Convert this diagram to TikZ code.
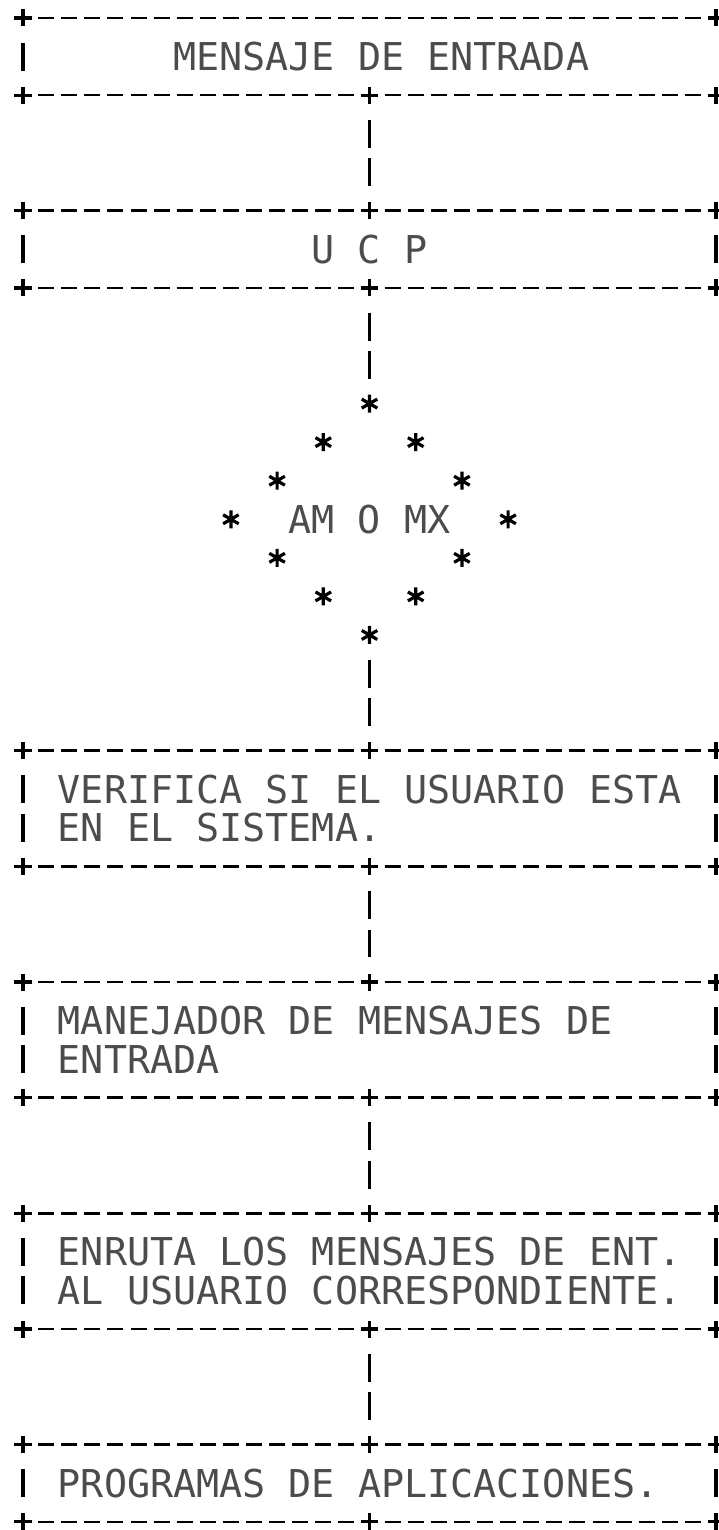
\documentclass[tikz,border=0pt]{standalone}
\usepackage{fontspec}
\newfontfamily\maquina{DejaVu Sans Mono}

% typed "+" and "*" marks
\newcommand{\cruz}[2]{\draw[mas] (#1,#2) ++(-8.5pt,0) -- ++(17pt,0) (#1,#2) ++(0,-8.5pt) -- ++(0,17pt);}
\newcommand{\estrella}[2]{\draw[mas] (#1,#2) ++(0,-9pt) -- ++(0,18pt) (#1,#2) ++(-30:9pt) -- ++(150:18pt) (#1,#2) ++(30:9pt) -- ++(210:18pt);}

\begin{document}
\begin{tikzpicture}[x=23.1pt, y=-38.56pt,
    texto/.style={font=\maquina\fontsize{38.37pt}{38.56pt}\selectfont, text=black!70, inner sep=0pt, text height=27.97pt, text depth=0pt},
    marco/.style={inner sep=0pt, minimum width=693pt},
    raya/.style={line width=2.6pt, dash pattern=on 16pt off 7.1pt, dash phase=19.55pt},
    mas/.style={line width=3.2pt},
    palo/.style={line width=3.4pt},
    enlace/.style={palo, dash pattern=on 28pt off 10.56pt, shorten <=24.56pt, shorten >=24.56pt}]

    \useasboundingbox (-23pt,18pt) rectangle (695pt,-1512pt);

    % one column = 23.1pt, one typed line = 38.56pt
    \node (entrada)   [marco, minimum height=77.12pt]  at (15,1) {};
    \node (ucp)       [marco, minimum height=77.12pt]  at (15,6) {};
    \node (amomx)     [texto, minimum height=231.36pt] at (15,13) {AM O MX};
    \node (verifica)  [marco, minimum height=115.68pt] at (15,20.5) {};
    \node (manejador) [marco, minimum height=115.68pt] at (15,26.5) {};
    \node (enruta)    [marco, minimum height=115.68pt] at (15,32.5) {};
    \node (programas) [marco, minimum height=77.12pt]  at (15,38) {};

    \node (entradaA)   [texto, anchor=west] at (6.5,1)  {MENSAJE DE ENTRADA};
    \node (ucpA)       [texto]              at (15,6)   {U C P};
    \node (verificaA)  [texto, anchor=west] at (1.5,20) {VERIFICA SI EL USUARIO ESTA};
    \node (verificaB)  [texto, anchor=west] at (1.5,21) {EN EL SISTEMA.};
    \node (manejadorA) [texto, anchor=west] at (1.5,26) {MANEJADOR DE MENSAJES DE};
    \node (manejadorB) [texto, anchor=west] at (1.5,27) {ENTRADA};
    \node (enrutaA)    [texto, anchor=west] at (1.5,32) {ENRUTA LOS MENSAJES DE ENT.};
    \node (enrutaB)    [texto, anchor=west] at (1.5,33) {AL USUARIO CORRESPONDIENTE.};
    \node (programasA) [texto, anchor=west] at (1.5,38) {PROGRAMAS DE APLICACIONES.};

    % first frame has no middle mark on top and no right side
    \draw[raya] (0.5,0) -- (29.5,0) (0.5,2) -- (14.5,2) (15.5,2) -- (29.5,2);
    \foreach \x/\y in {0/0, 30/0, 0/2, 15/2, 30/2} {
        \cruz{\x}{\y}
    }

    \foreach \arriba/\abajo in {5/7, 19/22, 25/28, 31/34, 37/39} {
        \draw[raya] (0.5,\arriba) -- (14.5,\arriba) (15.5,\arriba) -- (29.5,\arriba)
                    (0.5,\abajo) -- (14.5,\abajo) (15.5,\abajo) -- (29.5,\abajo);
        \foreach \x in {0,15,30} {
            \cruz{\x}{\arriba}
            \cruz{\x}{\abajo}
        }
    }

    % side bars
    \foreach \r in {1,6,20,21,26,27,32,33,38}
        \draw[palo] (0,\r) ++(0,-14pt) -- ++(0,28pt);
    \foreach \r in {6,20,21,26,27,32,33,38}
        \draw[palo] (30,\r) ++(0,-14pt) -- ++(0,28pt);

    % the diamond of asterisks
    \foreach \x/\y in {15/10, 13/11, 17/11, 11/12, 19/12, 9/13, 21/13,
                       11/14, 19/14, 13/15, 17/15, 15/16} {
        \estrella{\x}{\y}
    }

    \draw[enlace] (entrada.south) -- (ucp.north);
    \draw[enlace] (ucp.south) -- (amomx.north);
    \draw[enlace] (amomx.south) -- (verifica.north);
    \draw[enlace] (verifica.south) -- (manejador.north);
    \draw[enlace] (manejador.south) -- (enruta.north);
    \draw[enlace] (enruta.south) -- (programas.north);

\end{tikzpicture}
\end{document}
